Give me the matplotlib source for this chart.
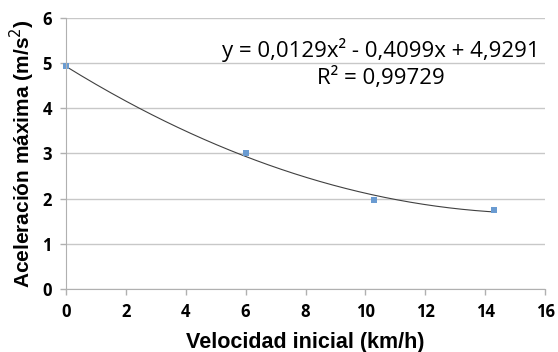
import numpy as np
import matplotlib
matplotlib.use("Agg")
import matplotlib.pyplot as plt

# measured points
velocidad = [0, 6, 10.3, 14.3]
aceleracion = [4.93, 3.02, 1.98, 1.75]

# polynomial trendline (as shown on the chart)
coefs = [0.0129, -0.4099, 4.9291]
r2_text = "R² = 0,99729"
eq_text = "y = 0,0129x² - 0,4099x + 4,9291"

x_ticks = list(range(0, 17, 2))
y_ticks = list(range(0, 7))

fig = plt.figure(figsize=(5.58, 3.52), dpi=100)
ax = fig.add_axes([0.118, 0.179, 0.859, 0.770])

ax.set_xlim(0, 16)
ax.set_ylim(0, 6)
ax.set_xticks(x_ticks)
ax.set_yticks(y_ticks)

ax.grid(axis="y", color="#c8c8c8", linewidth=1.0)
ax.set_axisbelow(True)

xs = np.linspace(velocidad[0], velocidad[-1], 200)
ax.plot(xs, np.polyval(coefs, xs), color="#404040", linewidth=0.8)
ax.plot(velocidad, aceleracion, linestyle="none", marker="s", markersize=4.5,
        color="#6a9bd1", markeredgewidth=0, clip_on=False)

for side in ["top", "right"]:
    ax.spines[side].set_visible(False)
for side in ["left", "bottom"]:
    ax.spines[side].set_color("#b0b0b0")
ax.tick_params(colors="#b0b0b0", length=4, width=1, pad=6)
for lbl in ax.get_xticklabels() + ax.get_yticklabels():
    lbl.set_color("black")
    lbl.set_fontfamily("Open Sans")
    lbl.set_fontweight("bold")
    lbl.set_fontsize(12)

ax.set_xlabel("Velocidad inicial (km/h)", fontsize=15.5, fontweight="bold",
              fontfamily="Liberation Sans", labelpad=8)
ax.set_ylabel("Aceleración máxima (m/s$^2$)", fontsize=15, fontweight="bold",
              fontfamily="Liberation Sans", labelpad=4)

ax.text(10.5, 5.29, eq_text, ha="center", va="center", fontsize=16,
        fontfamily="Open Sans")
ax.text(10.5, 4.67, r2_text, ha="center", va="center", fontsize=16,
        fontfamily="Open Sans")

fig.savefig("out.png", dpi=100, facecolor="white")
